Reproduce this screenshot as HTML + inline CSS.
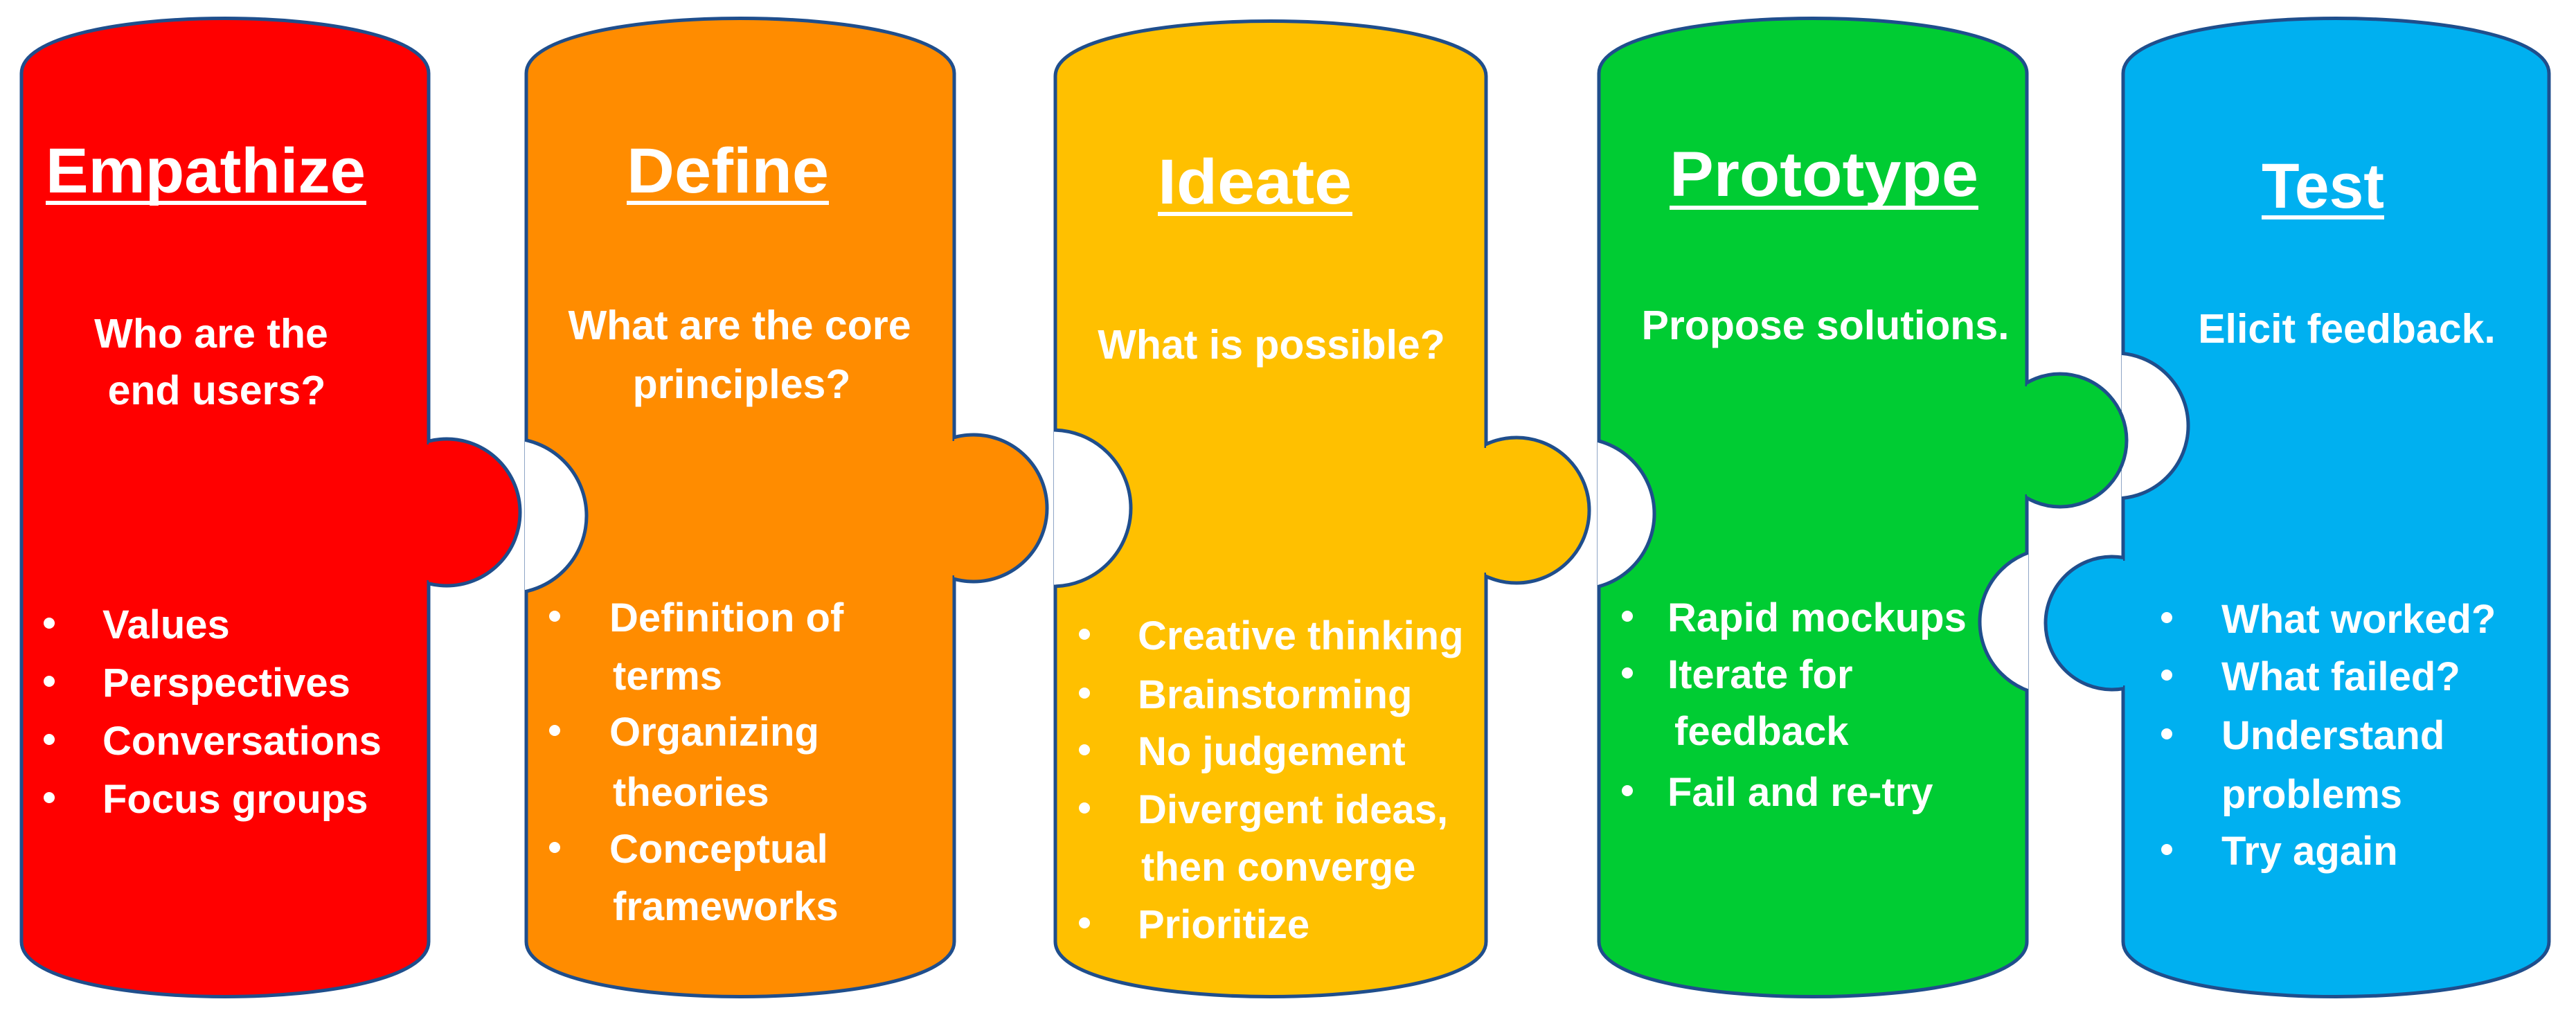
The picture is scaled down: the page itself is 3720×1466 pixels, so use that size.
<!DOCTYPE html>
<html><head><meta charset="utf-8"><style>
html,body{margin:0;padding:0;background:#fff;}
svg{display:block}
text{font-family:"Liberation Sans",sans-serif;font-weight:bold;fill:#fff;}
</style></head><body>
<svg width="3720" height="1466" viewBox="0 0 3720 1466" xmlns="http://www.w3.org/2000/svg">
<defs>
<clipPath id="c1"><rect x="758" y="0" width="400" height="1466"/></clipPath>
<clipPath id="c2"><rect x="1522" y="0" width="400" height="1466"/></clipPath>
<clipPath id="c3"><rect x="2307" y="0" width="400" height="1466"/></clipPath>
<clipPath id="c4"><rect x="2600" y="0" width="329" height="1466"/></clipPath>
<clipPath id="c5"><rect x="3064" y="0" width="400" height="1466"/></clipPath>
<clipPath id="k1"><rect x="619" y="0" width="300" height="1466"/></clipPath>
<clipPath id="k2"><rect x="1378" y="0" width="300" height="1466"/></clipPath>
<clipPath id="k3"><rect x="2146" y="0" width="300" height="1466"/></clipPath>
<clipPath id="k4"><rect x="2927" y="0" width="300" height="1466"/></clipPath>
<clipPath id="k5"><rect x="2700" y="0" width="366" height="1466"/></clipPath>
</defs>
<g stroke="#1f4e8c" stroke-width="5">
<path d="M31,106 C31,0 619,0 619,106 L619,1360 C619,1466 31,1466 31,1360 Z" fill="#ff0000"/>
<path d="M760,106 C760,0 1378,0 1378,106 L1378,1360 C1378,1466 760,1466 760,1360 Z" fill="#ff8c00"/>
<path d="M1524,110 C1524,4 2146,4 2146,110 L2146,1360 C2146,1466 1524,1466 1524,1360 Z" fill="#ffc000"/>
<path d="M2309,106 C2309,0 2927,0 2927,106 L2927,1360 C2927,1466 2309,1466 2309,1360 Z" fill="#00cc33"/>
<path d="M3066,106 C3066,0 3681,0 3681,106 L3681,1360 C3681,1466 3066,1466 3066,1360 Z" fill="#00b0f0"/>
<circle cx="735" cy="745" r="112" fill="#fff" clip-path="url(#c1)"/>
<circle cx="1520" cy="734" r="113" fill="#fff" clip-path="url(#c2)"/>
<circle cx="2280" cy="742" r="109" fill="#fff" clip-path="url(#c3)"/>
<circle cx="2965" cy="898" r="106" fill="#fff" clip-path="url(#c4)"/>
<circle cx="3055" cy="615" r="105" fill="#fff" clip-path="url(#c5)"/>
</g>
<rect x="624" y="600" width="133" height="300" fill="#fff"/>
<rect x="1383" y="600" width="138" height="300" fill="#fff"/>
<rect x="2151" y="600" width="155" height="300" fill="#fff"/>
<rect x="2932" y="480" width="131" height="560" fill="#fff"/>
<g stroke="#1f4e8c" stroke-width="5">
<circle cx="645" cy="740" r="106" fill="#ff0000" clip-path="url(#k1)"/>
<circle cx="1406" cy="734" r="106" fill="#ff8c00" clip-path="url(#k2)"/>
<circle cx="2190" cy="737" r="105" fill="#ffc000" clip-path="url(#k3)"/>
<circle cx="2975" cy="636" r="96" fill="#00cc33" clip-path="url(#k4)"/>
<circle cx="3050" cy="900" r="96" fill="#00b0f0" clip-path="url(#k5)"/>
</g>
<rect x="615" y="642" width="8" height="196" fill="#ff0000"/>
<rect x="1374" y="637" width="8" height="194" fill="#ff8c00"/>
<rect x="2142" y="647" width="8" height="180" fill="#ffc000"/>
<rect x="2923" y="558" width="8" height="156" fill="#00cc33"/>
<rect x="3062" y="810" width="8" height="180" fill="#00b0f0"/>

<text x="66" y="278" font-size="92" textLength="462" lengthAdjust="spacingAndGlyphs">Empathize</text>
<rect x="66" y="290" width="463" height="6" fill="#fff"/>
<text x="905" y="278" font-size="92" textLength="292" lengthAdjust="spacingAndGlyphs">Define</text>
<rect x="905" y="290" width="292" height="6" fill="#fff"/>
<text x="1672" y="294" font-size="92" textLength="280" lengthAdjust="spacingAndGlyphs">Ideate</text>
<rect x="1672" y="306" width="281" height="6" fill="#fff"/>
<text x="2411" y="283" font-size="92" textLength="446" lengthAdjust="spacingAndGlyphs">Prototype</text>
<rect x="2411" y="297" width="446" height="6" fill="#fff"/>
<text x="3266" y="300" font-size="92" textLength="177" lengthAdjust="spacingAndGlyphs">Test</text>
<rect x="3266" y="311" width="177" height="6" fill="#fff"/>

<g font-size="59" text-anchor="middle">
<text x="305" y="502">Who are the</text>
<text x="313" y="584">end users?</text>
<text x="1068" y="490">What are the core</text>
<text x="1071" y="575">principles?</text>
<text x="1836" y="518">What is possible?</text>
<text x="2636" y="490">Propose solutions.</text>
<text x="3389" y="495">Elicit feedback.</text>
</g>

<g font-size="58">
<text x="148" y="922">Values</text>
<text x="148" y="1006">Perspectives</text>
<text x="148" y="1090">Conversations</text>
<text x="148" y="1174">Focus groups</text>

<text x="880" y="912">Definition of</text>
<text x="885" y="996">terms</text>
<text x="880" y="1077">Organizing</text>
<text x="885" y="1164">theories</text>
<text x="880" y="1246">Conceptual</text>
<text x="885" y="1329">frameworks</text>

<text x="1643" y="938">Creative thinking</text>
<text x="1643" y="1023">Brainstorming</text>
<text x="1643" y="1105">No judgement</text>
<text x="1643" y="1189">Divergent ideas,</text>
<text x="1648" y="1272">then converge</text>
<text x="1643" y="1355">Prioritize</text>

<text x="2408" y="912">Rapid mockups</text>
<text x="2408" y="994">Iterate for</text>
<text x="2418" y="1076">feedback</text>
<text x="2408" y="1164">Fail and re-try</text>

<text x="3208" y="914">What worked?</text>
<text x="3208" y="997">What failed?</text>
<text x="3208" y="1082">Understand</text>
<text x="3208" y="1167">problems</text>
<text x="3208" y="1249">Try again</text>
</g>
<g fill="#fff">
<circle cx="71" cy="900" r="8"/><circle cx="71" cy="984" r="8"/><circle cx="71" cy="1068" r="8"/><circle cx="71" cy="1152" r="8"/>
<circle cx="801" cy="890" r="8"/><circle cx="801" cy="1055" r="8"/><circle cx="801" cy="1224" r="8"/>
<circle cx="1566" cy="916" r="8"/><circle cx="1566" cy="1001" r="8"/><circle cx="1566" cy="1083" r="8"/><circle cx="1566" cy="1167" r="8"/><circle cx="1566" cy="1333" r="8"/>
<circle cx="2350" cy="890" r="8"/><circle cx="2350" cy="972" r="8"/><circle cx="2350" cy="1142" r="8"/>
<circle cx="3129" cy="892" r="8"/><circle cx="3129" cy="975" r="8"/><circle cx="3129" cy="1060" r="8"/><circle cx="3129" cy="1227" r="8"/>
</g>
</svg>
</body></html>
